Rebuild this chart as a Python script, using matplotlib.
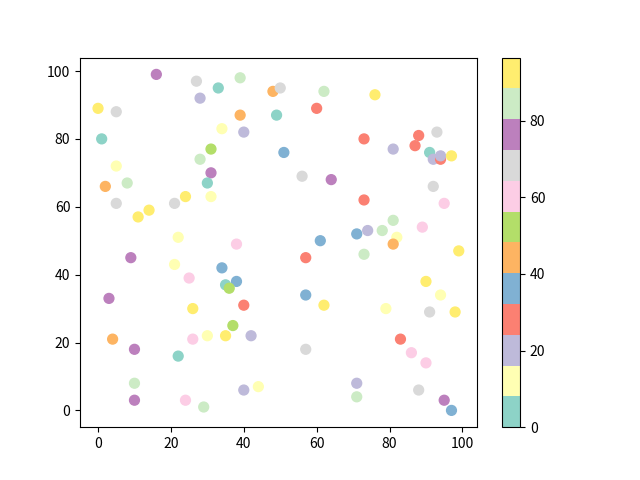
import matplotlib
matplotlib.use("Agg")
import matplotlib.pyplot as plt
import numpy as np

plt.rcParams['font.family'] = ['Noto Sans CJK SC', 'DejaVu Sans']

# colour bands of Set3 (0..11)
x = [16, 27, 33, 39, 28, 48, 50, 0, 5, 39, 49, 1, 34, 40, 31, 28, 5, 31, 30, 8,
     2, 5, 21, 24, 31, 14, 11, 22, 38, 51,
     62, 76, 60, 73, 81, 88, 93, 87, 91, 92, 94, 94, 97, 56, 64, 92, 73, 95, 81, 89,
     71, 74, 78, 82, 81, 61,
     57, 73, 99, 90, 94, 57, 62, 79, 91, 98, 83, 86, 90, 57, 71, 71, 88, 95, 97,
     9, 21, 34, 25, 35, 38, 36, 3, 26, 40, 37, 4, 26, 30, 35, 42, 10, 22, 10, 10,
     24, 29, 40, 44]
y = [99, 97, 95, 98, 92, 94, 95, 89, 88, 87, 87, 80, 83, 82, 77, 74, 72, 70, 67, 67,
     66, 61, 61, 63, 63, 59, 57, 51, 49, 76,
     94, 93, 89, 80, 77, 81, 82, 78, 76, 74, 74, 75, 75, 69, 68, 66, 62, 61, 56, 54,
     52, 53, 53, 51, 49, 50,
     45, 46, 47, 38, 34, 34, 31, 30, 29, 29, 21, 17, 14, 18, 8, 4, 6, 3, 0,
     45, 43, 42, 39, 37, 38, 36, 33, 30, 31, 25, 21, 21, 22, 22, 22, 18, 16, 8, 3,
     3, 1, 6, 7]
band = [9, 8, 0, 10, 2, 5, 8, 11, 8, 5, 0, 0, 1, 2, 6, 10, 1, 9, 0, 10,
        5, 8, 8, 11, 1, 11, 11, 1, 7, 4,
        10, 11, 3, 3, 2, 3, 8, 3, 0, 2, 3, 2, 11, 8, 9, 8, 3, 7, 10, 7,
        4, 2, 10, 1, 5, 4,
        3, 10, 11, 11, 1, 4, 11, 1, 8, 11, 3, 7, 7, 8, 2, 10, 8, 9, 4,
        9, 1, 4, 7, 0, 4, 6, 9, 11, 3, 6, 5, 7, 1, 11, 2, 9, 0, 10, 9,
        7, 10, 2, 1]

colors = np.array(band) * 8.04 + 4

plt.figure(figsize=(6.4, 4.8), dpi=100)
plt.scatter(x, y, c=colors, cmap="Set3", s=50, vmin=0, vmax=96.5)
plt.colorbar()
plt.savefig("out.png")
